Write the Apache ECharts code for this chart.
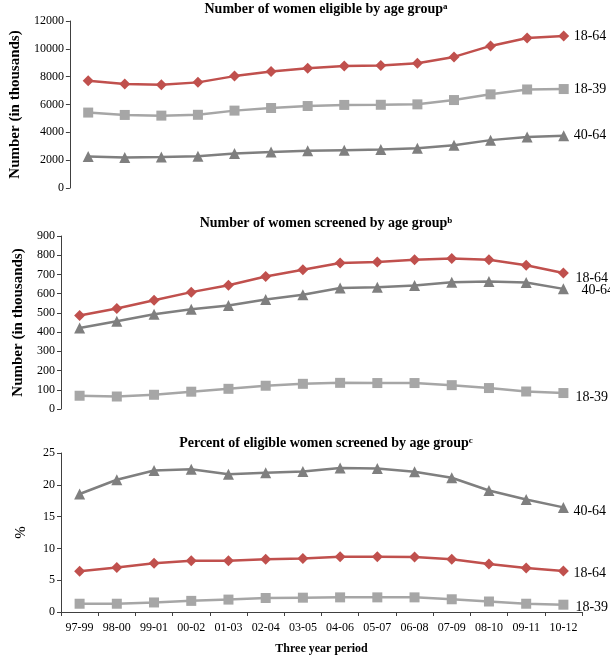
<!DOCTYPE html>
<html>
<head>
<meta charset="utf-8">
<script src="https://cdn.jsdelivr.net/npm/echarts@6/dist/echarts.min.js"></script>
<style>html,body{margin:0;padding:0;background:#fff}#c{width:610px;height:656px}</style>
</head>
<body>
<div id="c"></div>
<script>
var categories = ['97-99','98-00','99-01','00-02','01-03','02-04','03-05','04-06','05-07','06-08','07-09','08-10','09-11','10-12'];

var eligible_18_64 = [7700,7470,7420,7590,8040,8370,8610,8760,8800,8970,9420,10210,10780,10920];
var eligible_18_39 = [5420,5250,5200,5260,5560,5750,5890,5970,5980,6010,6320,6730,7080,7110];
var eligible_40_64 = [2270,2200,2220,2290,2480,2580,2670,2720,2770,2860,3080,3440,3670,3750];

var screened_18_64 = [486,523,566,608,644,689,724,760,765,776,783,776,748,708];
var screened_40_64 = [421,457,493,519,538,570,594,629,634,642,660,663,658,625];
var screened_18_39 = [69,65,74,90,105,121,131,136,135,135,124,109,91,83];

var percent_40_64 = [18.55,20.8,22.25,22.45,21.65,21.9,22.1,22.65,22.55,22.05,21.1,19.1,17.7,16.45];
var percent_18_64 = [6.4,7.0,7.65,8.05,8.05,8.3,8.4,8.7,8.7,8.65,8.3,7.55,6.9,6.45];
var percent_18_39 = [1.3,1.3,1.5,1.75,1.95,2.2,2.25,2.3,2.3,2.3,2.0,1.65,1.3,1.15];

var FONT = '"Liberation Serif","Times New Roman",serif';
var RED = '#C0504D', LIGHT = '#A6A6A6', DARK = '#7F7F7F';
var AXC = '#404040';

function mkSeries(name, data, idx, color, symbol, size, offset) {
  return {
    name: name, type: 'line', data: data, xAxisIndex: idx, yAxisIndex: idx,
    symbol: symbol, symbolSize: size, color: color,
    lineStyle: {width: 2.5, color: color},
    itemStyle: {color: color},
    animation: false,
    endLabel: {show: true, formatter: name, color: '#000', fontFamily: FONT, fontSize: 14,
      distance: 10, offset: offset || [0,0]}
  };
}

function yAx(idx, max, interval, name, gap, nameBold) {
  return {
    type: 'value', gridIndex: idx, min: 0, max: max, interval: interval,
    name: name, nameLocation: 'middle', nameGap: gap,
    nameTextStyle: {fontFamily: FONT, fontSize: 15, fontWeight: nameBold ? 'bold' : 'normal', color: '#000'},
    axisLine: {show: true, lineStyle: {color: AXC, width: 1}},
    axisTick: {show: true, inside: false, length: 4, lineStyle: {color: AXC}},
    axisLabel: {fontFamily: FONT, fontSize: 12, color: '#000', margin: 6,
      formatter: function (v) { return String(v); }},
    splitLine: {show: false}
  };
}

function xAx(idx, showAll) {
  return {
    type: 'category', gridIndex: idx, data: categories, boundaryGap: true,
    axisLine: {show: showAll, lineStyle: {color: AXC, width: 1}},
    axisTick: {show: showAll, alignWithLabel: false, length: 4, lineStyle: {color: AXC}},
    axisLabel: {show: showAll, fontFamily: FONT, fontSize: 12, color: '#000', margin: 10, interval: 0},
    name: showAll ? 'Three year period' : '',
    nameLocation: 'middle', nameGap: 31,
    nameTextStyle: {fontFamily: FONT, fontSize: 12, fontWeight: 'bold', color: '#000'}
  };
}

function mkTitle(text, sup, top) {
  return {
    text: '{t|' + text + '}{s|' + sup + '}', left: 321, textAlign: 'center', top: top,
    textStyle: {
      rich: {
        t: {fontFamily: FONT, fontSize: 14, fontWeight: 'bold', color: '#000'},
        s: {fontFamily: FONT, fontSize: 9, fontWeight: 'bold', color: '#000', verticalAlign: 'top', padding: [0,0,6,0]}
      }
    }
  };
}

var chart = echarts.init(document.getElementById('c'), null, {renderer: 'canvas'});
chart.setOption({
  backgroundColor: '#fff',
  animation: false,
  title: [
    mkTitle('Number of women eligible by age group', 'a', -3),
    mkTitle('Number of women screened by age group', 'b', 211),
    mkTitle('Percent of eligible women screened by age group', 'c', 431)
  ],
  grid: [
    {left: 61, right: 28, top: 21, height: 167},
    {left: 61, right: 28, top: 236, height: 173},
    {left: 61, right: 28, top: 453, height: 166}
  ],
  xAxis: [xAx(0, false), xAx(1, false), xAx(2, true)],
  yAxis: [
    yAx(0, 12000, 2000, 'Number (in thousands)', 40, true),
    yAx(1, 900, 100, 'Number (in thousands)', 35, true),
    yAx(2, 25, 5, '%', 32, false)
  ],
  series: [
    mkSeries('18-64', eligible_18_64, 0, RED, 'diamond', 11, [0,0]),
    mkSeries('18-39', eligible_18_39, 0, LIGHT, 'rect', 10, [0,0]),
    mkSeries('40-64', eligible_40_64, 0, DARK, 'triangle', 11, [0,0]),
    mkSeries('18-64', screened_18_64, 1, RED, 'diamond', 11, [2,5]),
    mkSeries('40-64', screened_40_64, 1, DARK, 'triangle', 11, [8,1]),
    mkSeries('18-39', screened_18_39, 1, LIGHT, 'rect', 10, [2,4]),
    mkSeries('40-64', percent_40_64, 2, DARK, 'triangle', 11, [0,4]),
    mkSeries('18-64', percent_18_64, 2, RED, 'diamond', 11, [0,2]),
    mkSeries('18-39', percent_18_39, 2, LIGHT, 'rect', 10, [2,3])
  ]
});
</script>
</body>
</html>
